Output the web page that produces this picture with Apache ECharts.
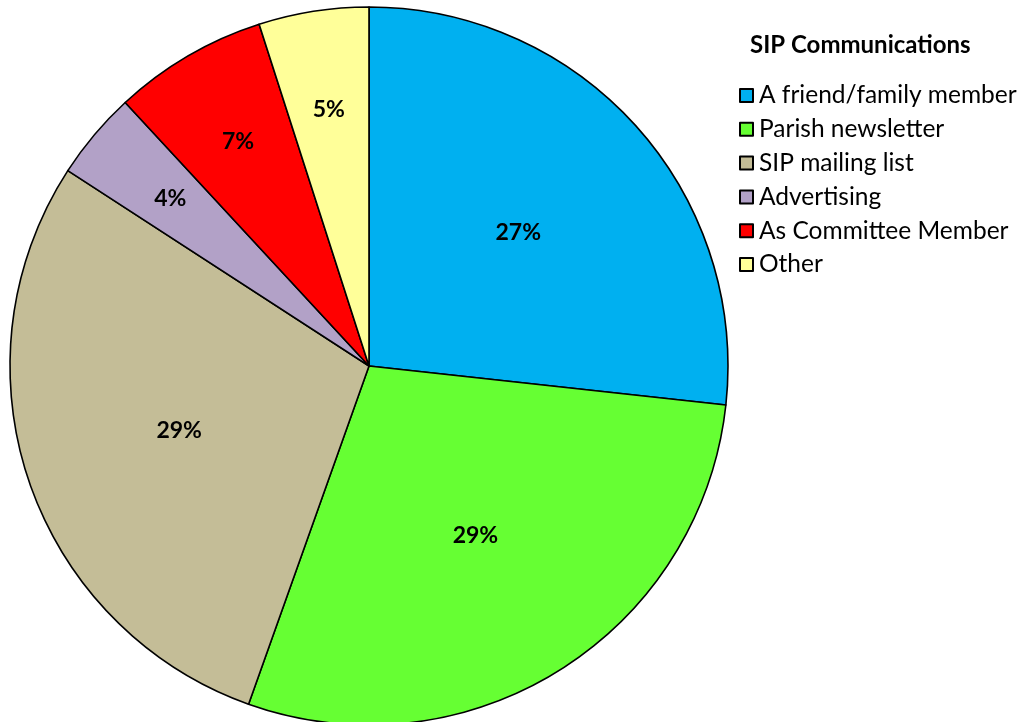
<!DOCTYPE html>
<html>
<head>
<meta charset="utf-8">
<script src="https://cdn.jsdelivr.net/npm/echarts@6/dist/echarts.min.js"></script>
<style>
  html, body { margin: 0; padding: 0; background: #ffffff; }
  #chart { width: 1030px; height: 722px; }
</style>
</head>
<body>
<div id="chart"></div>
<script>
// Survey: how people heard about SIP (percent of respondents)
const chartTitle = 'SIP Communications';
const categories = ['A friend/family member', 'Parish newsletter', 'SIP mailing list', 'Advertising', 'As Committee Member', 'Other'];
const percents = [27, 29, 29, 4, 7, 5];
const colors = ['#00B0F0', '#66FF33', '#C4BD97', '#B2A1C7', '#FF0000', '#FFFF99'];
// Slices whose label sits further out toward the rim
const smallSlices = ['Advertising', 'As Committee Member', 'Other'];

const FONT = 'Lato, "Open Sans", sans-serif';
const CENTER = [369, 366];
const R = 359;

const mainData = categories.map((name, i) => ({
  name: name,
  value: percents[i],
  itemStyle: { color: colors[i] }
}));

// label-only rings: one for the wide slices, one (further out) for the thin ones
const labelData = wantSmall => categories.map((name, i) => ({
  name: name,
  value: percents[i],
  label: { show: (smallSlices.indexOf(name) >= 0) === wantSmall }
}));

const labelStyle = {
  show: true,
  position: 'inside',
  formatter: p => p.value + '%',
  color: '#000000',
  fontFamily: FONT,
  fontWeight: 'bold',
  fontSize: 23
};

const labelRing = (inner, wantSmall) => ({
  type: 'pie',
  center: CENTER,
  radius: [R * inner, R],
  startAngle: 90,
  clockwise: true,
  avoidLabelOverlap: false,
  silent: true,
  legendHoverLink: false,
  itemStyle: { color: 'rgba(0,0,0,0)', borderWidth: 0 },
  label: labelStyle,
  labelLine: { show: false },
  data: labelData(wantSmall)
});

const chart = echarts.init(document.getElementById('chart'), null, { renderer: 'canvas' });
chart.setOption({
  animation: false,
  backgroundColor: '#ffffff',
  title: {
    text: chartTitle,
    left: 745,
    top: 28,
    textStyle: { fontFamily: FONT, fontWeight: 'bold', fontSize: 24, color: '#000000' }
  },
  legend: {
    orient: 'vertical',
    left: 734,
    top: 78,
    icon: 'rect',
    itemWidth: 13,
    itemHeight: 13,
    itemGap: 8.8,
    data: categories,
    textStyle: { fontFamily: FONT, fontSize: 24.5, color: '#000000', lineHeight: 24, padding: [0, 0, 0, 1] },
    selectedMode: false
  },
  series: [
    {
      type: 'pie',
      center: CENTER,
      radius: [0, R],
      startAngle: 90,
      clockwise: true,
      avoidLabelOverlap: false,
      silent: true,
      itemStyle: { borderColor: '#000000', borderWidth: 1.6 },
      label: { show: false },
      labelLine: { show: false },
      data: mainData
    },
    labelRing(0.1, false),
    labelRing(0.43, true)
  ]
});
</script>
</body>
</html>
